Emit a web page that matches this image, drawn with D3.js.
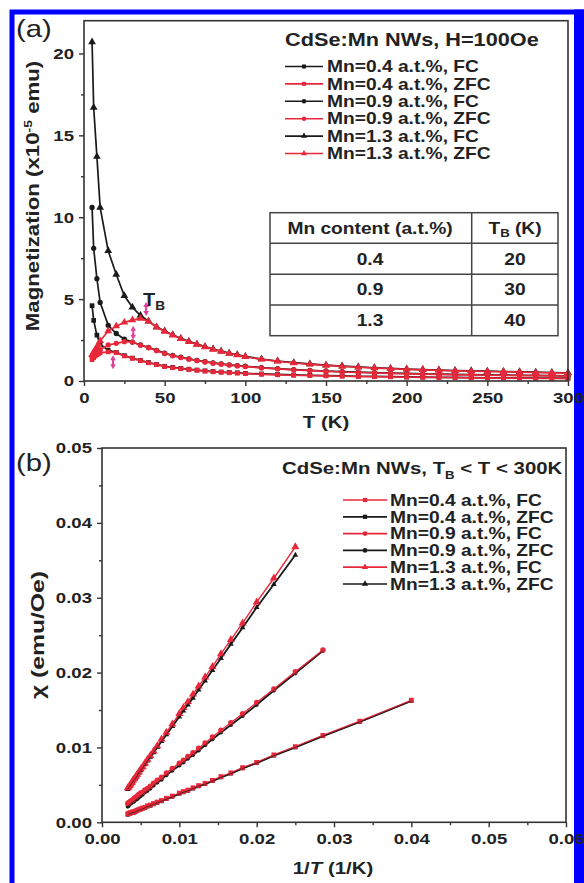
<!DOCTYPE html>
<html>
<head>
<meta charset="utf-8">
<script src="https://cdn.jsdelivr.net/npm/d3@7"></script>
<style>
  html, body { margin: 0; padding: 0; background: #fff; }
  svg { display: block; font-family: "Liberation Sans", Arial, sans-serif; }
  .tick text { font-size: 15.5px; font-weight: bold; fill: #222; }
  .domain { display: none; }
  .tick line { stroke: #333; stroke-width: 1.4; }
</style>
</head>
<body>
<div id="chart"></div>
<script>
// panel (a): M(T), FC and ZFC
const tempsA = [5, 6, 8, 10, 15, 20, 25, 30, 35, 40, 45, 50, 55, 60, 65, 70, 75, 80, 85, 90, 95, 100,
    110, 120, 130, 140, 150, 160, 170, 180, 190, 200, 210, 220, 230, 240, 250, 260, 270, 280, 290, 300];
const fc04 = [4.6, 3.7, 2.8, 2.25, 1.88, 1.75, 1.55, 1.4, 1.26, 1.13, 1.02, 0.9, 0.83, 0.77, 0.72, 0.67, 0.62, 0.58, 0.55, 0.52, 0.5, 0.47,
    0.43, 0.4, 0.37, 0.35, 0.33, 0.31, 0.29, 0.28, 0.27, 0.25, 0.24, 0.23, 0.22, 0.21, 0.2, 0.2, 0.19, 0.18, 0.18, 0.17];
const fc09 = [10.6, 8.1, 6.25, 4.8, 3.4, 2.9, 2.55, 2.38, 2.2, 2.05, 1.87, 1.7, 1.56, 1.45, 1.35, 1.26, 1.18, 1.11, 1.05, 0.99, 0.94, 0.9,
    0.82, 0.76, 0.7, 0.65, 0.61, 0.57, 0.54, 0.51, 0.48, 0.46, 0.44, 0.42, 0.4, 0.39, 0.37, 0.36, 0.35, 0.34, 0.33, 0.32];
const fc13 = [20.7, 16.7, 13.7, 10.6, 7.95, 6.5, 5.2, 4.5, 4.0, 3.65, 3.3, 3.05, 2.82, 2.6, 2.42, 2.25, 2.1, 1.95, 1.82, 1.7, 1.6, 1.5,
    1.34, 1.22, 1.12, 1.04, 0.97, 0.91, 0.86, 0.81, 0.77, 0.73, 0.7, 0.67, 0.64, 0.62, 0.6, 0.58, 0.56, 0.54, 0.52, 0.5];

const tempsZfc = [5, 6, 7, 8, 9, 10, 15, 20, 25, 30, 35, 40, 45, 50, 55, 60, 65, 70, 75, 80, 85, 90, 95, 100,
    110, 120, 130, 140, 150, 160, 170, 180, 190, 200, 210, 220, 230, 240, 250, 260, 270, 280, 290, 300];
const zfc04 = [1.3, 1.42, 1.52, 1.6, 1.66, 1.72, 1.78, 1.73, 1.53, 1.38, 1.24, 1.11, 1.0, 0.88, 0.81, 0.75, 0.7, 0.65, 0.6, 0.56, 0.53, 0.5, 0.48, 0.45,
    0.41, 0.38, 0.35, 0.33, 0.31, 0.29, 0.27, 0.26, 0.25, 0.23, 0.22, 0.21, 0.2, 0.19, 0.18, 0.18, 0.17, 0.16, 0.16, 0.15];
const zfc09 = [1.48, 1.58, 1.68, 1.76, 1.84, 1.92, 2.2, 2.3, 2.4, 2.38, 2.18, 2.03, 1.85, 1.68, 1.54, 1.43, 1.33, 1.24, 1.16, 1.09, 1.03, 0.97, 0.92, 0.88,
    0.8, 0.74, 0.68, 0.63, 0.59, 0.55, 0.52, 0.49, 0.46, 0.44, 0.42, 0.4, 0.38, 0.37, 0.35, 0.34, 0.33, 0.32, 0.31, 0.3];
const zfc13 = [1.6, 1.75, 1.92, 2.08, 2.25, 2.45, 3.05, 3.35, 3.58, 3.72, 3.82, 3.65, 3.28, 3.02, 2.8, 2.58, 2.4, 2.23, 2.08, 1.93, 1.8, 1.68, 1.58, 1.48,
    1.32, 1.2, 1.1, 1.02, 0.95, 0.89, 0.84, 0.79, 0.75, 0.71, 0.68, 0.65, 0.62, 0.6, 0.58, 0.56, 0.54, 0.52, 0.5, 0.48];

// blocking temperature arrows (T, M)
const arrowsTB = [[18, 1.15], [30.5, 2.95], [38.5, 4.4]];

const tableContent = ["0.4", "0.9", "1.3"];
const tableTB = ["20", "30", "40"];

const legendA = ["Mn=0.4 a.t.%, FC", "Mn=0.4 a.t.%, ZFC", "Mn=0.9 a.t.%, FC", "Mn=0.9 a.t.%, ZFC", "Mn=1.3 a.t.%, FC", "Mn=1.3 a.t.%, ZFC"];
const legendB = ["Mn=0.4 a.t.%, FC", "Mn=0.4 a.t.%, ZFC", "Mn=0.9 a.t.%, FC", "Mn=0.9 a.t.%, ZFC", "Mn=1.3 a.t.%, FC", "Mn=1.3 a.t.%, ZFC"];

// panel (b): chi vs 1/T for TB < T < 300K
const tempsB = [25, 30, 35, 40, 45, 50, 55, 60, 65, 70, 75, 80, 85, 90, 95, 100,
    110, 120, 130, 140, 150, 160, 170, 180, 190, 200, 210, 220, 230, 240, 250, 260, 270, 280, 290, 300];
const chiFc04 = [0.0163, 0.0135, 0.0116, 0.0101, 0.0090, 0.0080, 0.0073, 0.0066, 0.0061, 0.0056, 0.0052, 0.0049, 0.0046, 0.0043, 0.0041, 0.0039,
    0.0035, 0.0032, 0.0029, 0.0027, 0.0025, 0.0023, 0.0022, 0.0020, 0.0019, 0.0018, 0.0017, 0.0016, 0.0015, 0.0014, 0.0014, 0.0013, 0.0013, 0.0012, 0.0012, 0.0011];
const chiZfc04 = [0.0162, 0.0134, 0.0115, 0.0100, 0.0089, 0.0079, 0.0072, 0.0065, 0.0060, 0.0055, 0.0051, 0.0048, 0.0045, 0.0042, 0.0040, 0.0038,
    0.0034, 0.0031, 0.0028, 0.0026, 0.0024, 0.0022, 0.0021, 0.0019, 0.0018, 0.0017, 0.0016, 0.0015, 0.0014, 0.0013, 0.0013, 0.0012, 0.0012, 0.0011, 0.0011, 0.0010];
const chiFc09 = [0.0230, 0.0201, 0.0178, 0.0160, 0.0145, 0.0133, 0.0123, 0.0114, 0.0106, 0.0099, 0.0093, 0.0088, 0.0083, 0.0079,
    0.0072, 0.0066, 0.0060, 0.0056, 0.0052, 0.0048, 0.0045, 0.0043, 0.0040, 0.0039, 0.0037, 0.0035, 0.0033, 0.0032, 0.0030, 0.0029, 0.0028, 0.0027, 0.0026, 0.0025];
const chiZfc09 = [0.0229, 0.0199, 0.0176, 0.0157, 0.0142, 0.0130, 0.0120, 0.0111, 0.0103, 0.0096, 0.0090, 0.0085, 0.0080, 0.0076,
    0.0069, 0.0063, 0.0057, 0.0053, 0.0049, 0.0045, 0.0042, 0.0040, 0.0037, 0.0035, 0.0033, 0.0031, 0.0030, 0.0028, 0.0027, 0.0026, 0.0025, 0.0024, 0.0022, 0.0021];
const chiFc13 = [0.0368, 0.0326, 0.0294, 0.0266, 0.0244, 0.0225, 0.0208, 0.0194, 0.0182, 0.0171, 0.0161, 0.0153, 0.0145,
    0.0131, 0.0120, 0.0111, 0.0102, 0.0095, 0.0089, 0.0084, 0.0079, 0.0074, 0.0071, 0.0067, 0.0064, 0.0061, 0.0058, 0.0056, 0.0053, 0.0051, 0.0049, 0.0047, 0.0046];
const chiZfc13 = [0.0357, 0.0318, 0.0287, 0.0260, 0.0238, 0.0219, 0.0203, 0.0189, 0.0177, 0.0166, 0.0157, 0.0149, 0.0141,
    0.0128, 0.0117, 0.0108, 0.0100, 0.0093, 0.0087, 0.0082, 0.0077, 0.0073, 0.0069, 0.0066, 0.0062, 0.0059, 0.0057, 0.0054, 0.0052, 0.0050, 0.0048, 0.0046, 0.0044];

const W = 584, H = 883;
const BLACK = "#1a1a1a", RED = "#e8283a", PINK = "#e0409c", INK = "#222";
const SX = 1.2; // the original lettering is wide
const svg = d3.select("#chart").append("svg").attr("width", W).attr("height", H);

// blue border first; the outermost tick labels sit over it, as in the original
svg.append("rect").attr("x", 12).attr("y", 12).attr("width", 590).attr("height", 900)
    .attr("fill", "none").attr("stroke", "#0000ff").attr("stroke-width", 5);
svg.append("rect").attr("x", 574).attr("y", 9.5).attr("width", 10).attr("height", H)
    .attr("fill", "#0000ff");

function zip(xs, ys) {
    const off = xs.length - ys.length;
    return ys.map((y, i) => [xs[i + off], y]);
}

// wide bold text placed at (x, y)
function label(g, x, y, size, anchor, sx) {
    return g.append("text")
        .attr("transform", `translate(${x},${y}) scale(${sx || SX},1)`)
        .attr("text-anchor", anchor || "start")
        .attr("font-size", size).attr("font-weight", "bold").attr("fill", INK);
}

function drawSeries(g, x, y, pts, color, shape, size, lw) {
    g.append("path").datum(pts)
        .attr("fill", "none").attr("stroke", color).attr("stroke-width", lw)
        .attr("d", d3.line().x(d => x(d[0])).y(d => y(d[1])));
    g.selectAll(null).data(pts).join("path")
        .attr("transform", d => "translate(" + x(d[0]) + "," + y(d[1]) + ")")
        .attr("d", d3.symbol().type(shape).size(size))
        .attr("fill", color);
}

function frame(g, x, y) {
    const [x0, x1] = x.range(), [y0, y1] = y.range();
    g.append("rect").attr("x", x0).attr("y", y1).attr("width", x1 - x0).attr("height", y0 - y1)
        .attr("fill", "none").attr("stroke", "#333").attr("stroke-width", 1.6);
}

function widenBottom(sel) { sel.selectAll(".tick text").attr("transform", `scale(${SX},1)`); }
function widenLeft(sel) {
    sel.selectAll(".tick text").attr("transform", `scale(${SX},1)`).attr("x", -10 / SX);
}

// ---------- panel (a) ----------
const xa = d3.scaleLinear().domain([0, 300]).range([84, 568]);
const ya = d3.scaleLinear().domain([0, 22]).range([381, 20.7]);
const ga = svg.append("g");

ga.append("g").attr("transform", "translate(0,381)")
    .call(d3.axisBottom(xa).tickValues(d3.range(25, 300, 50)).tickSize(3).tickFormat(""));
ga.append("g").attr("transform", "translate(0,381)")
    .call(d3.axisBottom(xa).tickValues(d3.range(0, 301, 50)).tickSize(5).tickPadding(6)).call(widenBottom);
ga.append("g").attr("transform", "translate(84,0)")
    .call(d3.axisLeft(ya).tickValues(d3.range(2.5, 22, 5)).tickSize(3).tickFormat(""));
ga.append("g").attr("transform", "translate(84,0)")
    .call(d3.axisLeft(ya).tickValues(d3.range(0, 21, 5)).tickSize(5)).call(widenLeft);

const aSeries = [
    [zip(tempsA, fc04), BLACK, d3.symbolSquare, 22],
    [zip(tempsA, fc09), BLACK, d3.symbolCircle, 22],
    [zip(tempsA, fc13), BLACK, d3.symbolTriangle, 26],
    [zip(tempsZfc, zfc04), RED, d3.symbolSquare, 22],
    [zip(tempsZfc, zfc09), RED, d3.symbolCircle, 22],
    [zip(tempsZfc, zfc13), RED, d3.symbolTriangle, 26]
];
aSeries.forEach(s => drawSeries(ga, xa, ya, s[0], s[1], s[2], s[3], 1.7));

// TB arrows
arrowsTB.forEach(a => {
    const cx = xa(a[0]), cy = ya(a[1]);
    ga.append("path")
        .attr("d", `M${cx},${cy - 7} L${cx + 2.8},${cy - 2} L${cx + 1},${cy - 2} L${cx + 1},${cy + 2} L${cx + 2.8},${cy + 2} L${cx},${cy + 7} L${cx - 2.8},${cy + 2} L${cx - 1},${cy + 2} L${cx - 1},${cy - 2} L${cx - 2.8},${cy - 2} Z`)
        .attr("fill", PINK);
});
const tbLabel = label(ga, 143, 306, 19, "start", 1.05).attr("font-weight", 600);
tbLabel.append("tspan").text("T");
tbLabel.append("tspan").attr("font-size", 13).attr("font-weight", "bold").attr("dy", 4).text("B");

frame(ga, xa, ya);

label(ga, 326, 428, 17, "middle").text("T (K)");
const yla = ga.append("text").attr("transform", "translate(39,196) rotate(-90) scale(1.27,1)")
    .attr("text-anchor", "middle").attr("font-size", 17.5).attr("font-weight", "bold").attr("fill", INK);
yla.append("tspan").text("Magnetization (x10");
yla.append("tspan").attr("font-size", 11).attr("dy", -7).text("-5");
yla.append("tspan").attr("dy", 7).text(" emu)");

label(ga, 16, 37, 24, "start", 1.22).attr("font-weight", "normal").text("(a)");

// legend (a)
label(ga, 285, 46, 17.5, "start", 1.24).text("CdSe:Mn NWs, H=100Oe");
const shapesA = [d3.symbolSquare, d3.symbolSquare, d3.symbolCircle, d3.symbolCircle, d3.symbolTriangle, d3.symbolTriangle];
legendA.forEach((lab, i) => {
    const cy = 66.5 + i * 17.4, col = i % 2 === 0 ? BLACK : RED;
    ga.append("line").attr("x1", 285).attr("x2", 323).attr("y1", cy).attr("y2", cy)
        .attr("stroke", col).attr("stroke-width", 1.6);
    ga.append("path").attr("transform", `translate(304,${cy})`)
        .attr("d", d3.symbol().type(shapesA[i]).size(16)).attr("fill", col);
    label(ga, 327, cy, 16).attr("dy", "0.36em").text(lab);
});

// table
const tx0 = 270, tx1 = 558, tdiv = 471.7;
const rowsY = [212.7, 243.3, 274.3, 305, 335.7];
const tg = ga.append("g").attr("stroke", "#444").attr("stroke-width", 1.5);
tg.append("rect").attr("x", tx0).attr("y", rowsY[0]).attr("width", tx1 - tx0).attr("height", rowsY[4] - rowsY[0])
    .attr("fill", "#fff");
rowsY.slice(1, 4).forEach(y => tg.append("line").attr("x1", tx0).attr("x2", tx1).attr("y1", y).attr("y2", y));
tg.append("line").attr("x1", tdiv).attr("x2", tdiv).attr("y1", rowsY[0]).attr("y2", rowsY[4]);
const midY = i => (rowsY[i] + rowsY[i + 1]) / 2;
label(ga, 370, midY(0), 16, "middle").attr("dy", "0.36em").text("Mn content (a.t.%)");
const tbh = label(ga, 515, midY(0), 16, "middle").attr("dy", "0.36em");
tbh.append("tspan").text("T");
tbh.append("tspan").attr("font-size", 11).attr("dy", 3).text("B");
tbh.append("tspan").attr("dy", -3).text(" (K)");
tableContent.forEach((c, i) => {
    label(ga, 370, midY(i + 1), 16, "middle").attr("dy", "0.36em").text(c);
    label(ga, 515, midY(i + 1), 16, "middle").attr("dy", "0.36em").text(tableTB[i]);
});

// ---------- panel (b) ----------
const xb = d3.scaleLinear().domain([0, 0.06]).range([102, 566]);
const yb = d3.scaleLinear().domain([0, 0.05]).range([822.3, 448]);
const gb = svg.append("g");

gb.append("g").attr("transform", "translate(0,822.3)")
    .call(d3.axisBottom(xb).tickValues(d3.range(0.005, 0.06, 0.01)).tickSize(3).tickFormat(""));
gb.append("g").attr("transform", "translate(0,822.3)")
    .call(d3.axisBottom(xb).tickValues(d3.range(0, 0.0601, 0.01)).tickSize(5).tickPadding(6).tickFormat(d3.format(".2f")))
    .call(widenBottom);
gb.append("g").attr("transform", "translate(102,0)")
    .call(d3.axisLeft(yb).tickValues(d3.range(0.005, 0.05, 0.01)).tickSize(3).tickFormat(""));
gb.append("g").attr("transform", "translate(102,0)")
    .call(d3.axisLeft(yb).tickValues(d3.range(0, 0.0501, 0.01)).tickSize(5).tickFormat(d3.format(".2f")))
    .call(widenLeft);

const inv = (temps, chi) => zip(temps, chi).map(d => [1 / d[0], d[1]]);
const bSeries = [
    [chiFc04, chiZfc04, d3.symbolSquare, 24],
    [chiFc09, chiZfc09, d3.symbolCircle, 24],
    [chiFc13, chiZfc13, d3.symbolTriangle, 28]
];
bSeries.forEach(s => drawSeries(gb, xb, yb, inv(tempsB, s[1]), BLACK, s[2], 14, 1.8));
bSeries.forEach(s => drawSeries(gb, xb, yb, inv(tempsB, s[0]), RED, s[2], s[3], 1.4));
bSeries.forEach(s => {
    gb.append("path").datum(inv(tempsB, s[1]))
        .attr("fill", "none").attr("stroke", BLACK).attr("stroke-width", 0.9).attr("stroke-opacity", 0.8)
        .attr("d", d3.line().x(d => xb(d[0])).y(d => yb(d[1])));
});

frame(gb, xb, yb);

const xlb = label(gb, 333, 874, 17, "middle");
xlb.append("tspan").text("1/");
xlb.append("tspan").attr("font-style", "italic").text("T");
xlb.append("tspan").text(" (1/K)");
gb.append("text").attr("transform", "translate(44,635) rotate(-90) scale(1.3,1)")
    .attr("text-anchor", "middle").attr("font-size", 19).attr("font-weight", "bold").attr("fill", INK)
    .text("χ (emu/Oe)");
label(gb, 16, 471, 24, "start", 1.22).attr("font-weight", "normal").text("(b)");

const ltb = label(gb, 282, 474, 17);
ltb.append("tspan").text("CdSe:Mn NWs, T");
ltb.append("tspan").attr("font-size", 11).attr("dy", 5).text("B");
ltb.append("tspan").attr("dy", -5).text(" < T < 300K");
const shapesB = [d3.symbolSquare, d3.symbolSquare, d3.symbolCircle, d3.symbolCircle, d3.symbolTriangle, d3.symbolTriangle];
legendB.forEach((lab, i) => {
    const cy = 500 + i * 16.8, col = i % 2 === 0 ? RED : BLACK;
    gb.append("line").attr("x1", 343).attr("x2", 387).attr("y1", cy).attr("y2", cy)
        .attr("stroke", col).attr("stroke-width", 1.7);
    gb.append("path").attr("transform", `translate(365,${cy})`)
        .attr("d", d3.symbol().type(shapesB[i]).size(18)).attr("fill", col);
    label(gb, 390, cy, 16).attr("dy", "0.36em").text(lab);
});
</script>
</body>
</html>
